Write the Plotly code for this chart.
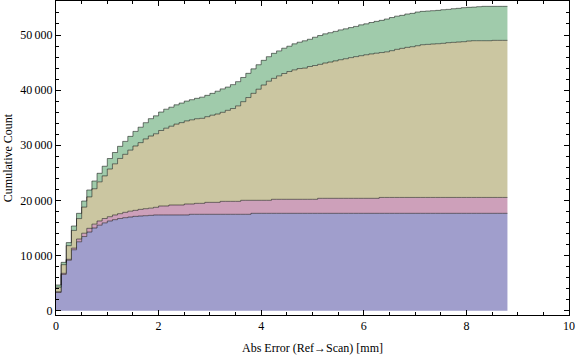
import numpy as np
import plotly.graph_objects as go

# Bin layout (histogram bins of width 0.1 mm, from 0 to 8.8 mm)
bin_width = 0.1
n_bins = 88
bin_edges = np.round(np.arange(n_bins + 1) * bin_width, 2)

# Cumulative counts, stacked tops of each layer
top_blue = [3300, 6580, 9150, 11050, 12500, 13450, 14270, 15000, 15510, 15930,
            16270, 16510, 16720, 16870, 16990, 17110, 17170, 17230, 17290, 17360,
            17360, 17360, 17360, 17360, 17360, 17360, 17480, 17480, 17480, 17480,
            17480, 17480, 17480, 17480, 17480, 17480, 17480, 17480, 17660, 17660,
            17660, 17660, 17660, 17660, 17660, 17660, 17660, 17660, 17660, 17660,
            17660, 17660, 17660, 17660, 17660, 17660, 17660, 17660, 17660, 17660,
            17660, 17660, 17660, 17660, 17660, 17660, 17660, 17660, 17660, 17660,
            17660, 17660, 17660, 17660, 17660, 17660, 17660, 17660, 17660, 17660,
            17660, 17660, 17660, 17660, 17660, 17660, 17660, 17660]

top_pink = [3450, 6780, 9320, 11350, 13000, 14050, 14940, 15700, 16270, 16720,
            17050, 17360, 17600, 17840, 18050, 18200, 18380, 18500, 18600, 18750,
            18990, 18990, 19170, 19170, 19170, 19350, 19350, 19470, 19470, 19650,
            19650, 19650, 19830, 19830, 19830, 19830, 20020, 20020, 20020, 20020,
            20020, 20020, 20200, 20200, 20200, 20200, 20200, 20200, 20200, 20200,
            20200, 20380, 20380, 20380, 20380, 20380, 20380, 20380, 20380, 20380,
            20380, 20380, 20380, 20540, 20540, 20540, 20540, 20540, 20540, 20540,
            20540, 20540, 20540, 20540, 20540, 20540, 20540, 20540, 20540, 20540,
            20540, 20540, 20540, 20540, 20540, 20540, 20540, 20540]

top_olive = [4260, 8350, 11800, 14560, 16710, 18790, 20640, 22120, 23370, 24450,
             25700, 26640, 27610, 28360, 29120, 29870, 30480, 31150, 31680, 32090,
             32680, 33100, 33460, 33840, 34110, 34420, 34620, 34820, 34890, 35190,
             35460, 35670, 35980, 36340, 36670, 37150, 37910, 38660, 39420, 40170,
             40930, 41620, 42140, 42590, 43020, 43380, 43680, 43920, 44000, 44290,
             44470, 44680, 44920, 45100, 45310, 45520, 45700, 45900, 46080, 46250,
             46420, 46570, 46700, 46820, 46950, 47160, 47400, 47580, 47760, 47880,
             48060, 48240, 48300, 48370, 48420, 48490, 48610, 48670, 48730, 48790,
             48910, 48970, 48970, 48970, 48970, 49030, 49030, 49030]

top_green = [4660, 8770, 12350, 15360, 17660, 19890, 21890, 23520, 24920, 26200,
             27600, 28690, 29810, 30710, 31620, 32520, 33280, 34100, 34830, 35340,
             36030, 36550, 36910, 37340, 37660, 38020, 38270, 38520, 38730, 39060,
             39420, 39810, 40230, 40560, 41000, 41540, 42300, 43050, 43860, 44610,
             45410, 46070, 46680, 47120, 47610, 47970, 48400, 48700, 48950, 49230,
             49600, 49910, 50210, 50420, 50660, 50930, 51120, 51350, 51560, 51840,
             52030, 52270, 52480, 52660, 52900, 53170, 53420, 53570, 53810, 53930,
             54170, 54290, 54350, 54410, 54470, 54590, 54650, 54770, 54840, 54960,
             55020, 55060, 55140, 55200, 55200, 55200, 55200, 55200]

layers = [
    ("blue", top_blue, "rgb(160,158,204)"),
    ("pink", top_pink, "rgb(205,160,186)"),
    ("olive", top_olive, "rgb(203,198,161)"),
    ("green", top_green, "rgb(160,203,171)"),
]

y_tick_vals = [0, 10000, 20000, 30000, 40000, 50000]
y_tick_text = ["0", "10\u2009000", "20\u2009000", "30\u2009000", "40\u2009000", "50\u2009000"]
x_tick_vals = [0, 2, 4, 6, 8, 10]
x_tick_text = ["0", "2", "4", "6", "8", "10"]

fig = go.Figure()
for i, (name, tops, color) in enumerate(layers):
    yv = list(tops) + [tops[-1]]
    fig.add_trace(go.Scatter(
        x=bin_edges, y=yv, mode="lines", name=name,
        line=dict(shape="hv", color="rgba(0,0,0,0.5)", width=1),
        fill="tozeroy" if i == 0 else "tonexty",
        fillcolor=color,
        showlegend=False, hoverinfo="skip",
    ))

font_family = "Liberation Serif, Times New Roman, serif"
axis_common = dict(
    showline=True, linecolor="black", linewidth=1, mirror="ticks",
    ticks="inside", ticklen=5, tickwidth=1, tickcolor="black",
    showgrid=False, zeroline=False, automargin=False,
    tickfont=dict(family=font_family, size=12, color="black"),
)

fig.update_xaxes(
    range=[0, 10], tickvals=x_tick_vals, ticktext=x_tick_text,
    minor=dict(ticks="inside", ticklen=3, dtick=0.5, tick0=0, tickcolor="black", showgrid=False),
    title=dict(text="Abs Error (Ref\u2192Scan) [mm]", font=dict(family=font_family, size=12, color="black"), standoff=11),
    **axis_common,
)
fig.update_yaxes(
    range=[-780, 56170], tickvals=y_tick_vals, ticktext=y_tick_text,
    minor=dict(ticks="inside", ticklen=3, dtick=2000, tick0=0, tickcolor="black", showgrid=False),
    title=dict(text="Cumulative Count", font=dict(family=font_family, size=12, color="black"), standoff=4),
    **axis_common,
)

fig.update_layout(
    width=576, height=357,
    margin=dict(l=56, r=7, t=1, b=42),
    plot_bgcolor="white", paper_bgcolor="white",
)

fig.write_html("out.html", config={"displayModeBar": False},
               post_script="document.body.style.margin='0';")
